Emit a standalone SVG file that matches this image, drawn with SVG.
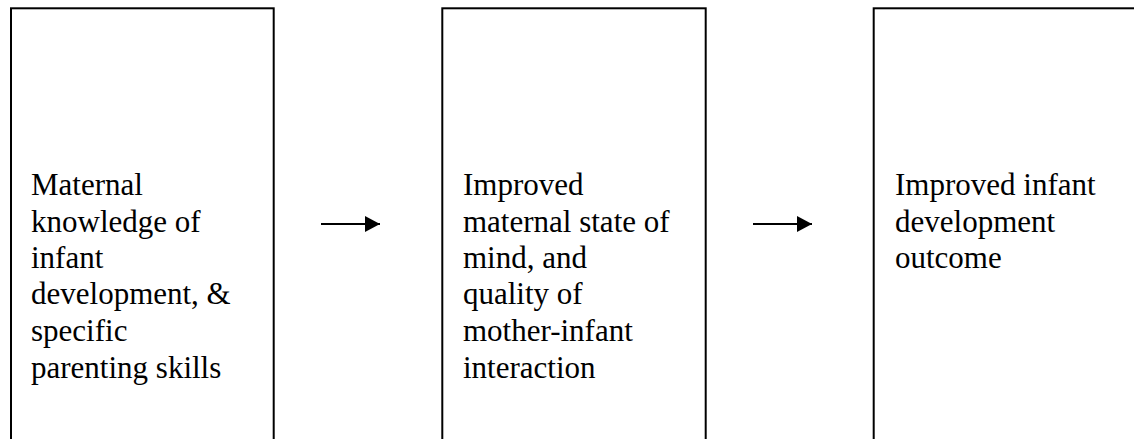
<svg xmlns="http://www.w3.org/2000/svg" width="1134" height="439" viewBox="0 0 1134 439">
<style>
.box{fill:#fff;stroke:#000;stroke-width:2}
.t{font-family:"Liberation Serif","Times New Roman",serif;font-size:31px;fill:#000}
.c{stroke:#000;stroke-width:2;fill:none}
</style>
<defs>
<marker id="ah" markerUnits="userSpaceOnUse" markerWidth="16" markerHeight="16" refX="15" refY="8" orient="auto">
<path d="M0,0 L15,8 L0,16 Z" fill="#000"/>
</marker>
</defs>
<rect width="1134" height="439" fill="#fff"/>
<g id="node1">
<rect class="box" x="11" y="8.3" width="262.7" height="440"/>
<text class="t" x="31" y="195">Maternal</text>
<text class="t" x="31" y="232">knowledge of</text>
<text class="t" x="31" y="268">infant</text>
<text class="t" x="31" y="304">development, &amp;</text>
<text class="t" x="31" y="341">specific</text>
<text class="t" x="31" y="378">parenting skills</text>
</g>
<g id="node2">
<rect class="box" x="442.3" y="8.3" width="263.4" height="440"/>
<text class="t" x="463" y="195">Improved</text>
<text class="t" x="463" y="232">maternal state of</text>
<text class="t" x="463" y="268">mind, and</text>
<text class="t" x="463" y="304">quality of</text>
<text class="t" x="463" y="341">mother-infant</text>
<text class="t" x="463" y="378">interaction</text>
</g>
<g id="node3">
<rect class="box" x="873.7" y="8.3" width="300" height="440"/>
<text class="t" x="895" y="195">Improved infant</text>
<text class="t" x="895" y="232">development</text>
<text class="t" x="895" y="268">outcome</text>
</g>
<g id="connectors">
<line class="c" x1="321" y1="224" x2="380" y2="224" marker-end="url(#ah)"/>
<line class="c" x1="753" y1="224" x2="812" y2="224" marker-end="url(#ah)"/>
</g>
</svg>
